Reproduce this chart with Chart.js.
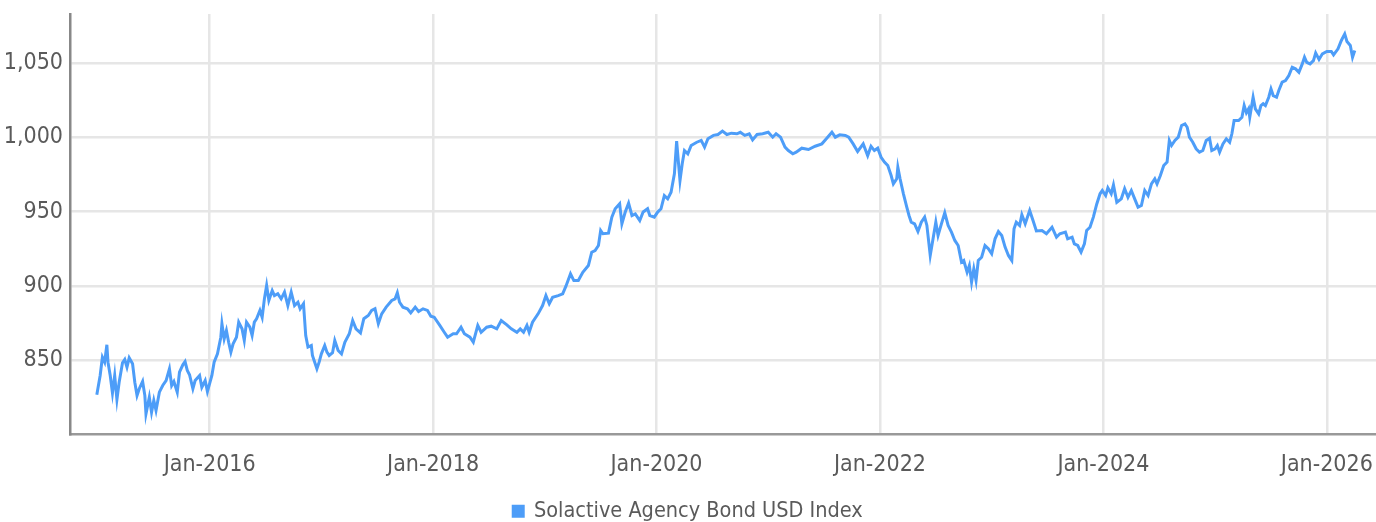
<!DOCTYPE html>
<html>
<head>
<meta charset="utf-8">
<script src="https://cdn.jsdelivr.net/npm/chart.js@4"></script>
<style>
  body { margin: 0; background: #fff; }
  #wrap { width: 1376px; height: 522px; position: relative; }
</style>
</head>
<body>
<div id="wrap"><canvas id="bondChart"></canvas></div>
<script>
// dates as decimal years
const dates = [
  2014.99, 2015.02, 2015.04, 2015.06, 2015.08, 2015.09, 2015.11, 2015.13, 2015.15, 2015.17,
  2015.19, 2015.22, 2015.24, 2015.26, 2015.28, 2015.31, 2015.33, 2015.35, 2015.37, 2015.40,
  2015.42, 2015.43, 2015.46, 2015.48, 2015.50, 2015.52, 2015.55, 2015.58, 2015.61, 2015.64,
  2015.66, 2015.68, 2015.71, 2015.73, 2015.76, 2015.78, 2015.80, 2015.82, 2015.85, 2015.87,
  2015.91, 2015.93, 2015.96, 2015.98, 2016.02, 2016.04, 2016.07, 2016.10, 2016.11, 2016.13,
  2016.15, 2016.17, 2016.19, 2016.21, 2016.24, 2016.26, 2016.29, 2016.31, 2016.33, 2016.36,
  2016.38, 2016.40, 2016.42, 2016.45, 2016.47, 2016.49, 2016.51, 2016.53, 2016.56, 2016.58,
  2016.61, 2016.64, 2016.67, 2016.70, 2016.73, 2016.76, 2016.79, 2016.81, 2016.84, 2016.86,
  2016.88, 2016.91, 2016.92, 2016.96, 2016.98, 2017.00, 2017.03, 2017.05, 2017.07,
  2017.10, 2017.12, 2017.15, 2017.18, 2017.21, 2017.25, 2017.28, 2017.31, 2017.35, 2017.38,
  2017.42, 2017.45, 2017.48, 2017.51, 2017.54, 2017.58, 2017.63, 2017.66, 2017.68, 2017.70,
  2017.73, 2017.77, 2017.80, 2017.84, 2017.87, 2017.91, 2017.95, 2017.98, 2018.01, 2018.06,
  2018.10, 2018.13, 2018.18, 2018.21, 2018.25, 2018.28, 2018.33, 2018.36, 2018.40, 2018.43,
  2018.48, 2018.52, 2018.57, 2018.61, 2018.66, 2018.70, 2018.75, 2018.78, 2018.81, 2018.84,
  2018.86, 2018.89, 2018.94, 2018.98, 2019.01, 2019.04, 2019.07, 2019.12, 2019.16, 2019.19,
  2019.23, 2019.26, 2019.30, 2019.34, 2019.39, 2019.42, 2019.45, 2019.48, 2019.50, 2019.52,
  2019.57, 2019.60, 2019.63, 2019.67, 2019.69, 2019.72, 2019.75, 2019.78, 2019.81, 2019.85,
  2019.88, 2019.92, 2019.94, 2019.98, 2020.01, 2020.04, 2020.07, 2020.10, 2020.13, 2020.16,
  2020.18, 2020.21, 2020.23, 2020.25, 2020.28, 2020.31, 2020.36, 2020.40, 2020.43, 2020.46,
  2020.51, 2020.55, 2020.59, 2020.63, 2020.67, 2020.72, 2020.75, 2020.79, 2020.83, 2020.86,
  2020.90, 2020.95, 2021.00, 2021.04, 2021.07, 2021.11, 2021.15, 2021.18, 2021.22, 2021.25,
  2021.30, 2021.36, 2021.42, 2021.48, 2021.52, 2021.57, 2021.60, 2021.64, 2021.69, 2021.72,
  2021.76, 2021.80, 2021.85, 2021.89, 2021.92, 2021.95, 2021.98, 2022.01, 2022.04, 2022.07,
  2022.10, 2022.12, 2022.15, 2022.16, 2022.18, 2022.21, 2022.24, 2022.26, 2022.28, 2022.31,
  2022.34, 2022.37, 2022.40, 2022.42, 2022.45, 2022.48, 2022.50, 2022.52, 2022.55, 2022.58,
  2022.61, 2022.64, 2022.67, 2022.70, 2022.73, 2022.75, 2022.78, 2022.80, 2022.82, 2022.84,
  2022.86, 2022.88, 2022.91, 2022.94, 2022.97, 2023.00, 2023.03, 2023.06, 2023.09, 2023.12,
  2023.15, 2023.18, 2023.20, 2023.22, 2023.25, 2023.27, 2023.30, 2023.34, 2023.37, 2023.40,
  2023.45, 2023.49, 2023.54, 2023.58, 2023.61, 2023.66, 2023.68, 2023.72, 2023.74, 2023.77,
  2023.80, 2023.83, 2023.85, 2023.88, 2023.91, 2023.94, 2023.97, 2023.99, 2024.02, 2024.04,
  2024.07, 2024.09, 2024.12, 2024.16, 2024.19, 2024.22, 2024.25, 2024.28, 2024.31, 2024.34,
  2024.37, 2024.40, 2024.43, 2024.46, 2024.48, 2024.51, 2024.54, 2024.57, 2024.59, 2024.61,
  2024.64, 2024.67, 2024.70, 2024.73, 2024.75, 2024.77, 2024.80, 2024.83, 2024.86, 2024.89,
  2024.92, 2024.95, 2024.97, 2025.00, 2025.02, 2025.04, 2025.07, 2025.10, 2025.13, 2025.15,
  2025.17, 2025.21, 2025.24, 2025.26, 2025.28, 2025.30, 2025.31, 2025.34, 2025.36, 2025.39,
  2025.41, 2025.43, 2025.45, 2025.48, 2025.50, 2025.52, 2025.55, 2025.57, 2025.60, 2025.63,
  2025.66, 2025.69, 2025.72, 2025.75, 2025.78, 2025.80, 2025.82, 2025.85, 2025.88, 2025.90,
  2025.93, 2025.96, 2026.00, 2026.04, 2026.06, 2026.10, 2026.13, 2026.16, 2026.18, 2026.21,
  2026.23, 2026.25
];

const indexValues = [
  826.7, 839.7, 852, 848.7, 860.4, 848.7, 839.7, 828, 839.7, 823.6,
  835.2, 848.3, 850.5, 845.3, 851.6, 847.6, 835.2, 826.2, 830.8, 835.7,
  826.2, 813.9, 825.1, 815, 822.9, 816.2, 828.5, 833, 836.3, 844.2,
  833, 835.7, 828.5, 841.9, 846.9, 849.1, 843.1, 840.2, 830.8, 836.3,
  839.7, 831.8, 836.3, 828.9, 839.7, 848.7, 854.3, 865.5, 874.5, 864.4,
  870, 862.1, 855.4, 861, 865.5, 875.6, 871.1, 863.3, 875.6, 872.2,
  866.6, 875.6, 877.9, 883.5, 878.9, 891.3, 900.3, 890.2, 896.9, 893.5,
  894.7, 891.3, 895.8, 886.8, 895.8, 886.8, 889, 884.6, 888, 866.6,
  858.8, 859.9, 853.2, 844.2, 848.7, 854.3, 859.9, 855.4, 853.2,
  855, 863.3, 856.5, 854.3, 862.1, 867.8, 876.7, 871.1, 868.4, 877.9,
  880.1, 883.5, 884.6, 874.5, 881.2, 885.7, 890.2, 891.3, 895.4, 889,
  885.7, 884.6, 881.9, 885.7, 882.8, 884.6, 883.5, 879.6, 878.9, 873.4,
  868.8, 865.5, 867.8, 867.8, 872.2, 867.8, 865.5, 862.1, 873.4, 868.8,
  872.2, 872.9, 871.1, 876.7, 873.8, 871.1, 868.8, 871.1, 868.8, 873.4,
  868.8, 875.6, 881.2, 886.8, 893.5, 888, 892.4, 893.5, 894.7, 900,
  908.2, 903.6, 903.6, 909.2, 913.7, 922.7, 923.8, 927.2, 937.3, 935.1,
  935.5, 946.3, 951.9, 955.3, 941.8, 949.7, 955.7, 947.4, 948.5, 944,
  949.7, 951.9, 947.4, 946.3, 949.7, 951.9, 960.8, 958.6, 963.1, 975.5,
  997.4, 970.9, 982.2, 991.1, 988.9, 994.5, 996.7, 997.9, 993.4, 999,
  1001.3, 1001.9, 1004.2, 1001.9, 1002.8, 1002.4, 1003.4, 1001.3, 1002.4, 998.3,
  1001.9, 1002.4, 1003.4, 1000.1, 1002.4, 1000.1, 993.4, 991.1, 988.9, 990,
  992.7, 991.8, 994, 995.6, 999, 1003.4, 1000.1, 1001.7, 1001.3, 1000.1,
  995.6, 990.5, 995.6, 987.7, 994, 991.1, 992.7, 986.6, 983.3, 981,
  974.3, 968.7, 972.1, 979.9, 972.1, 962, 953, 947.4, 942.9, 941.8,
  936.6, 942.9, 946.3, 940.7, 920.5, 933.9, 942.9, 933.9, 941.8, 949.2,
  940.7, 936.2, 930.6, 927.2, 916, 917.1, 909.2, 913.7, 902.5, 911.5,
  903.6, 917.1, 919.3, 927.2, 925, 921.6, 931.7, 936.6, 933.9, 926.1,
  920.5, 917.1, 938.4, 942.9, 940.7, 947.9, 941.8, 950.8, 944, 937,
  937.3, 935.1, 939.5, 932.8, 935.1, 936.2, 931.7, 932.8, 928.3, 927.2,
  922.7, 928.3, 937.3, 939.5, 946.3, 955, 962, 964.2, 960.8, 966,
  962, 968, 956.3, 958.6, 965.4, 959.7, 964.2, 958.6, 953, 954.1,
  964.2, 960.8, 968.7, 972.1, 968.7, 974.3, 981, 983.3, 997.9, 994.5,
  997.9, 1000.1, 1008, 1009.1, 1006.8, 1000.1, 996.7, 992.3, 990, 991.1,
  997.9, 999.4, 991.1, 992.3, 994.5, 990, 995.6, 999, 996.7, 1002.4,
  1011.3, 1011.3, 1013.5, 1021.4, 1016.5, 1019.2, 1013.5, 1027, 1019.2, 1015.8,
  1021.4, 1022.6, 1021.4, 1027, 1032.6, 1028.1, 1027, 1031.5, 1037.1, 1038.2,
  1041.6, 1047.2, 1046.1, 1043.8, 1049.4, 1053.9, 1050.5, 1049.4, 1051.6, 1056.8,
  1052.4, 1056.2, 1057.8, 1057.8, 1055.5, 1059.6, 1065.2, 1069.6, 1064.5, 1061.8,
  1053.9, 1058.4
];

const xTickYears = [2016, 2018, 2020, 2022, 2024, 2026];
const yTickValues = [850, 900, 950, 1000, 1050];
const seriesName = 'Solactive Agency Bond USD Index';

const fontFamily = "'DejaVu Sans Condensed', 'Liberation Sans Narrow', sans-serif";
const lineColor = 'rgb(77, 157, 248)';

const points = dates.map((d, i) => ({ x: d, y: indexValues[i] }));

// keep the plot area fixed: no automatic label padding
function noPadding(scale) {
  scale.paddingTop = 0;
  scale.paddingBottom = 0;
  scale.paddingLeft = 0;
  scale.paddingRight = 0;
}

const config = {
  type: 'line',
  data: {
    datasets: [{
      label: seriesName,
      data: points,
      borderColor: lineColor,
      backgroundColor: lineColor,
      borderWidth: 3,
      pointRadius: 0,
      tension: 0,
      fill: false
    }]
  },
  options: {
    responsive: true,
    maintainAspectRatio: false,
    animation: false,
    layout: { padding: { top: 14, left: 0, right: 0, bottom: -10 } },
    plugins: {
      legend: {
        position: 'bottom',
        labels: {
          boxWidth: 10,
          boxHeight: 10,
          padding: 0,
          color: '#5a5a5a',
          font: { family: fontFamily, size: 21.5 }
        }
      },
      tooltip: { enabled: false }
    },
    scales: {
      x: {
        type: 'linear',
        min: 2014.75,
        max: 2026.44,
        afterBuildTicks: (scale) => {
          scale.ticks = xTickYears.map(v => ({ value: v }));
        },
        afterFit: (scale) => { scale.height = 66; noPadding(scale); },
        ticks: {
          padding: 17,
          maxRotation: 0,
          color: '#5a5a5a',
          font: { family: fontFamily, size: 23 },
          callback: (v) => 'Jan-' + v
        },
        grid: { color: '#e6e6e6', lineWidth: 2.5, drawTicks: false },
        border: { color: '#999999', width: 2.5 }
      },
      y: {
        min: 800,
        max: 1083,
        afterBuildTicks: (scale) => {
          scale.ticks = yTickValues.map(v => ({ value: v }));
        },
        afterFit: (scale) => { scale.width = 70; noPadding(scale); },
        ticks: {
          padding: 7,
          color: '#5a5a5a',
          font: { family: fontFamily, size: 23 },
          callback: (v) => v.toLocaleString('en-US')
        },
        grid: { color: '#e6e6e6', lineWidth: 2.5, drawTicks: false },
        border: { color: '#888888', width: 2.5 }
      }
    }
  }
};

const bondChart = new Chart(document.getElementById('bondChart'), config);
</script>
</body>
</html>
